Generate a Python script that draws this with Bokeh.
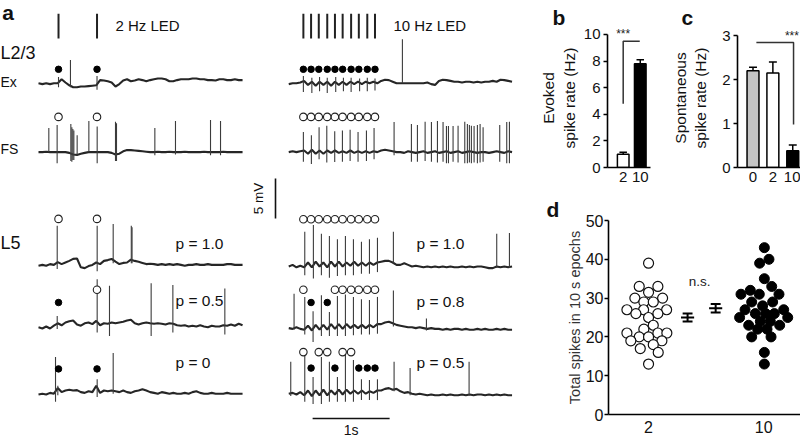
import numpy as np
from bokeh.plotting import figure
from bokeh.models import Range1d, Label, FixedTicker
from bokeh.layouts import row, column
from bokeh.core.properties import value
from bokeh.embed import file_html
from bokeh.resources import INLINE

FONT = "Liberation Sans"
DT = 0.05
RIGHT_T0 = 3.25      # start of the right-hand (10 Hz) column on the shared time axis (s)

# ---------------- panel a : stimulus times (s) ----------------
led_2hz = [0.26, 0.76]
led_10hz = [0.19, 0.29, 0.39, 0.50, 0.60, 0.70, 0.81, 0.91, 1.02, 1.12]

# ---------------- panel a : traces (mV re. rest, one sample every 50 ms) + spikes (t, peak, trough) ----
ex_left = [0, -0.1, 0, -0.1, 0, 0, 0.5, 0.1, -0.25, -0.5,
           -0.5, -0.4, -0.4, -0.35, -0.3, -0.25, 0.4, 0.35, 0.25, 0.1,
           -0.4, -0.1, 0.35, 0.5, 0.25, 0.35, 0.5, 0.4, 0.25, 0.4,
           0.5, 0.6, 0.6, 0.5, 0.25, 0.25, 0.4, 0.5, 0.5, 0.5,
           0.6, 0.6, 0.5, 0.5, 0.4, 0.4, 0.35, 0.5, 0.5, 0.4,
           0.4, 0.5, 0.4, 0.4]
ex_left_spikes = [(0.26, 0.8, -0.5), (0.415, 2.9, -0.5), (0.76, 0.9, -0.8)]

fs_left = [0, 0, 0.05, 0, 0, 0, 0, 0, -0.1, -0.3,
           -0.35, -0.2, -0.1, 0, 0, 0, 0, 0, 0, -0.1,
           -0.3, -0.2, 0.1, 0.25, 0.25, 0.2, 0.15, 0.1, 0.05, 0,
           0, 0.05, 0, 0, 0.05, 0, 0, 0, 0.05, 0,
           0, 0, 0, 0.05, 0, 0, 0, 0, 0.05, 0,
           0, 0, 0, 0]
fs_left_spikes = [(0.134, 3.0, 0.0), (0.242, 3.4, -1.4), (0.42, 3.5, -1.1), (0.433, 3.1, -1.2),
                  (0.446, 2.9, -1.0), (0.459, 2.7, -1.0), (0.502, 2.1, -0.3), (0.654, 3.9, 0.0),
                  (0.762, 3.2, -1.4), (1.0, 3.8, -1.1), (1.013, 3.6, -1.1), (1.511, 3.0, -0.4),
                  (1.779, 3.9, -0.3), (2.234, 4.0, -0.4), (2.364, 3.9, -0.4)]

l5p10_left = [-0.1, 0, -0.1, 0.1, 0, 0.35, 0.1, 0.3, 0.5, 0.75,
              0.8, -0.3, -0.4, -0.15, 0, 0.3, 0.1, 0.5, 0.6, 0.75,
              0.4, 0.1, 0.25, 0.3, 0.65, 0.5, 0.4, 0.25, 0.1, 0.15,
              0.1, 0, 0.1, 0, 0.1, 0, 0.1, 0, -0.1, 0,
              0, 0.1, 0, 0, 0.1, 0, 0, 0, 0, 0.1,
              0.1, 0, 0, 0]
l5p10_left_spikes = [(0.243, 4.9, -0.5), (0.762, 4.9, -0.8), (0.97, 5.1, 0.2),
                     (1.205, 4.9, 0.2), (1.215, 4.7, 0.2)]

l5p05_left = [-0.1, -0.25, 0, -0.25, 0.1, 0.4, 0.15, 0.5, 0.65, 0.75,
              0.25, 0.1, 0.4, 0.5, 0.3, 0.7, 0.15, 0.4, 0.35, 0.5,
              0.4, 0.5, 0.6, 0.75, 0.85, 0.4, 0.25, 0.4, 0.5, 0.4,
              0.35, 0.4, 0.35, 0.25, 0.4, 0.35, 0.15, 0.1, 0.15, 0,
              0.1, 0, 0.15, 0, -0.1, 0.1, 0, 0, 0.15, 0.1,
              0.25, 0.1, 0.35, 0.15]
l5p05_left_spikes = [(0.243, 1.3, -0.3), (0.762, 5.9, -0.75), (0.922, 5.1, -1.2),
                     (1.463, 5.4, -1.2), (1.745, 5.2, -0.75), (2.42, 4.75, -1.0)]

l5p0_left = [-0.1, 0, -0.1, 0.1, 0, 0.7, 0.2, 0.4, 0.5, 0.4,
             0.45, 0.2, 0.1, 0.3, 0.2, 1.0, 0.1, 0.4, 0.3, 0.4,
             0.3, 0.2, 0.4, 0.2, 0.1, 0.3, 0.4, 0.55, 0.4, 0.2,
             0.1, 0, 0.2, 0.1, 0, 0.1, 0, 0, 0.1, 0,
             0.2, 0.3, 0.1, 0, 0, 0.1, 0, 0, 0, 0.1,
             0, 0, 0, 0]
l5p0_left_spikes = [(0.221, 4.6, -1.0), (0.251, 1.0, -0.2), (0.762, 1.8, -0.4), (0.97, 5.1, 0.0)]

ex_right = [-0.1, 0, 0, 0.1, 0.3, -0.2, 0.2, -0.3, 0.2, -0.2,
            0.2, -0.3, 0.2, -0.2, 0.2, -0.2, 0.2, -0.1, 0.2, -0.1,
            0.2, 0, 0.2, 0, 0.3, 0.45, 0.4, 0.2, 0, 0,
            0, 0, 0, 0, 0, 0, 0.1, -0.1, -0.2, 0.3,
            0.45, 0.4, 0.3, 0.2, 0.2, 0.1, 0.2, 0.2, 0.1, 0.2,
            0.1, 0.2, 0.2, 0.3, 0.2, 0.45, 0.4, 0.3, 0.2]
ex_right_spikes = [(0.19, 0.9, -1.1), (0.30, 0.7, -1.2), (0.40, 0.8, -1.0), (0.50, 0.7, -1.2),
                   (0.61, 0.8, -1.1), (0.71, 0.7, -1.0), (0.81, 0.7, -1.1), (0.92, 0.6, -1.0),
                   (1.02, 0.7, -1.0), (1.12, 0.6, -0.9), (1.476, 5.5, 0.0)]

fs_right = [0, 0.1, 0, 0.1, 0.2, -0.2, 0.3, -0.2, 0.2, -0.2,
            0.2, -0.1, 0.2, -0.1, 0.1, -0.1, 0.2, -0.1, 0.1, -0.1,
            0.1, -0.1, 0.1, 0, 0.2, 0.3, 0.2, 0.1, 0, 0,
            -0.1, 0.1, 0, -0.1, 0, 0.1, -0.1, 0, 0.1, -0.1,
            0, 0.1, -0.1, 0, 0.1, -0.1, 0, 0.1, 0, -0.1,
            0, 0, -0.1, 0, 0.1, 0, -0.1, 0.1, 0]
fs_right_spikes = [(0.19, 2.5, -1.2), (0.294, 2.1, -1.5), (0.394, 3.1, -0.9), (0.494, 3.3, -1.3),
                   (0.597, 2.6, -1.25), (0.697, 2.7, -1.2), (0.797, 2.8, -1.1), (0.9, 2.5, -1.2),
                   (1.009, 2.7, -1.1), (1.108, 3.0, -0.9),
                   (1.368, 3.75, -0.4), (1.593, 3.5, -1.2), (1.671, 3.4, -1.2), (1.771, 3.8, -1.1),
                   (1.853, 3.75, -1.2), (1.931, 3.9, -1.3), (2.004, 3.75, -1.2), (2.048, 3.25, -1.4),
                   (2.074, 3.25, -1.4), (2.134, 3.25, -1.2), (2.199, 3.3, -1.3), (2.286, 3.8, -1.4),
                   (2.32, 3.5, -1.4), (2.346, 3.4, -1.3), (2.372, 3.3, -1.4), (2.407, 3.25, -1.3),
                   (2.45, 3.4, -1.4), (2.485, 3.5, -1.3), (2.524, 3.1, -1.2), (2.74, 3.4, -1.2),
                   (2.831, 3.75, -1.4), (2.866, 3.8, -1.4)]

l5p10_right = [-0.1, 0.1, -0.2, 0,
               -0.2, 0.4, -0.2, 0.5, -0.1, 0.4, -0.2, 0.5, -0.1, 0.5,
               -0.1, 0.4, 0, 0.5, 0, 0.4, 0, 0.4, 0.1, 0.4,
               0.5, 0.6, 0.6, 0.4, 0.1, 0.1,
               0.3, 0.1, -0.1, 0, -0.1, -0.2, -0.1, -0.2, -0.1, -0.2,
               -0.1, -0.2, -0.1, -0.2, -0.2, -0.1, -0.2, -0.1, -0.2, -0.1,
               -0.1, -0.2, -0.3, -0.3, -0.1, -0.2, -0.1, -0.2, -0.1]
l5p10_right_spikes = [(0.208, 4.25, -1.2), (0.32, 5.1, -1.6), (0.424, 4.0, -1.2), (0.528, 3.7, -1.5),
                      (0.632, 3.3, -1.3), (0.736, 3.7, -1.2), (0.84, 3.3, -1.2), (0.944, 3.0, -1.0),
                      (1.048, 3.3, -1.0), (1.152, 3.5, -0.8), (1.359, 4.25, 0.3),
                      (2.701, 4.0, -0.3), (2.866, 4.1, -0.3)]

l5p08_right = [0, -0.1, 0.1, -0.1,
               -0.2, 0.3, -0.3, 0.4, -0.2, 0.4, -0.2, 0.5, -0.1, 0.5,
               -0.1, 0.5, 0, 0.4, 0, 0.4, 0, 0.4, 0.1, 0.5,
               0.5, 0.7, 0.8, 0.6, 0.4, 0.3,
               0.2, 0.1, 0.1, 0, 0.1, 0, -0.1, 0, -0.1, -0.1,
               -0.2, -0.1, -0.2, -0.1, -0.1, -0.2, -0.1, -0.2, -0.2, -0.1,
               -0.2, -0.1, -0.2, -0.2, -0.1, -0.2, -0.1, -0.2, -0.2]
l5p08_right_spikes = [(0.069, 4.3, -0.2), (0.208, 3.9, -0.8), (0.316, 2.1, -1.75), (0.424, 4.1, -1.0),
                      (0.528, 2.0, -1.0), (0.632, 4.0, -1.0), (0.736, 4.2, -1.0), (0.84, 3.9, -0.9),
                      (0.944, 3.6, -0.8), (1.048, 3.5, -0.8), (1.152, 3.9, -0.7), (1.359, 4.7, 0.2),
                      (1.788, 1.2, -0.3)]

l5p05_right = [0, 0.1, -0.1, 0.2,
               -0.2, 0.4, -0.3, 0.4, -0.2, 0.5, -0.2, 0.4, -0.1, 0.5,
               -0.1, 0.5, 0, 0.4, 0, 0.4, 0, 0.3, 0.1, 0.4,
               0.4, 0.6, 0.7, 0.5, 0.6, 0.3,
               0.1, 0.2, 0, -0.1, 0, -0.1, -0.2, -0.1, -0.2, -0.2,
               -0.1, -0.2, -0.1, -0.2, -0.2, -0.1, -0.2, -0.1, -0.2, -0.1,
               -0.1, -0.2, -0.1, -0.2, -0.1, -0.2, -0.1, -0.2, -0.2]
l5p05_right_spikes = [(0.026, 4.0, -0.3), (0.208, 4.8, -1.0), (0.316, 2.1, -1.3), (0.424, 4.6, -1.3),
                      (0.528, 4.0, -1.0), (0.632, 2.1, -1.0), (0.736, 5.2, -1.0), (0.84, 4.2, -1.0),
                      (0.944, 1.8, -0.8), (1.048, 1.7, -0.8), (1.152, 1.8, -0.8), (1.368, 4.0, 0.3),
                      (1.576, 3.2, -0.2), (2.342, 4.0, -0.2)]

# outcome of each LED pulse: 1 = spike (open circle), 0 = no spike (filled dot), None = unmarked
ex_left_hits = [0, 0]
fs_left_hits = [1, 1]
l5p10_left_hits = [1, 1]
l5p05_left_hits = [0, 1]
l5p0_left_hits = [0, 0]
ex_right_hits = [0] * 10
fs_right_hits = [1] * 10
l5p10_right_hits = [1] * 10
l5p08_right_hits = [1, 0, None, 0, 1, 1, 1, 1, 1, 1]
l5p05_right_hits = [1, 0, 1, 1, 0, 1, 1, 0, 0, 0]

# ---------------- panel b ----------------
freq_b = ["2", "10"]
evoked_rate = [1.0, 7.8]
evoked_sem = [0.15, 0.3]

# ---------------- panel c ----------------
freq_c = ["0", "2", "10"]
spont_rate = [2.2, 2.15, 0.38]
spont_sem = [0.08, 0.25, 0.13]

# ---------------- panel d ----------------
group_d = ["2", "10"]
spikes_2hz = [39, 33, 33, 31.5, 30, 30, 29, 29, 27, 27, 27, 26, 26, 25, 23, 22, 21, 21, 21,
              20, 20, 19, 19, 18, 17, 16, 13]
jitter_2hz = [0, -0.081, 0.081, 0, -0.119, 0.122, -0.041, 0.041, -0.188, -0.043, 0.157,
              -0.110, 0.081, 0, 0.041, -0.041, -0.188, 0.081, 0.159, -0.081, 0, -0.154,
              0.116, 0.041, -0.072, 0.084, 0]
spikes_10hz = [43, 39, 40, 35, 33, 32, 31, 31, 31, 29, 29, 28, 27, 27, 26, 26, 26, 25, 25,
               24, 24, 23, 23, 22, 22, 20, 20, 16, 13]
jitter_10hz = [0.006, -0.035, 0.046, 0.006, 0.07, -0.116, -0.197, -0.038, 0.133, -0.104,
               0.078, -0.009, -0.162, 0.174, -0.072, 0.017, 0.093, -0.209, 0.209, -0.029,
               0.058, -0.13, 0.139, -0.052, 0.029, -0.104, 0.064, 0.006, 0.006]
mean_d = [25.0, 27.4]
sem_d = [1.0, 1.1]

TRACE = "#262626"
SPIKE = "#3c3c3c"

# =============== panel a ===============
pa = figure(width=537, height=438, x_range=Range1d(-0.4935, 6.4805), y_range=Range1d(0, 54.75),
            x_axis_type=None, y_axis_type=None, output_backend="svg", toolbar_location=None,
            min_border=0)
pa.outline_line_color = None
pa.background_fill_color = "white"


def draw_trace(t0, base, samples, spikes):
    t = t0 + DT * np.arange(len(samples))
    pa.line(t, base + np.asarray(samples, dtype=float), line_color=TRACE, line_width=2.1)
    st = [t0 + s[0] for s in spikes]
    pa.segment(x0=st, y0=[base + s[2] for s in spikes], x1=st, y1=[base + s[1] for s in spikes],
               line_color=SPIKE, line_width=1.1)


def draw_marks(t0, base, leds, hits, h_open, h_fill):
    xo = [t0 + t for t, h in zip(leds, hits) if h == 1]
    xf = [t0 + t for t, h in zip(leds, hits) if h == 0]
    if xo:
        pa.scatter(xo, [base + h_open] * len(xo), marker="circle", size=7.5,
                   fill_color="white", line_color="#222", line_width=1.1)
    if xf:
        pa.scatter(xf, [base + h_fill] * len(xf), marker="circle", size=6.5,
                   fill_color="black", line_color="black")


def txt(x, y, s, size, angle=0.0, align="left", style="normal"):
    pa.text(x=[x], y=[y], text=[s], text_font=value(FONT), text_font_size=value(size),
            text_align=align, text_baseline="middle", angle=angle, text_font_style=style,
            text_color="#111111")


# LED bars
for t0, leds in ((0.0, led_2hz), (RIGHT_T0, led_10hz)):
    xs = [t0 + t for t in leds]
    pa.segment(x0=xs, y0=[50.0] * len(xs), x1=xs, y1=[53.1] * len(xs),
               line_color="#222", line_width=2)

rows = [
    (0.0, 44.4, ex_left, ex_left_spikes, led_2hz, ex_left_hits, 4.4, 1.75),
    (0.0, 35.8, fs_left, fs_left_spikes, led_2hz, fs_left_hits, 4.4, 1.75),
    (0.0, 21.7, l5p10_left, l5p10_left_spikes, led_2hz, l5p10_left_hits, 5.75, 3.0),
    (0.0, 14.0, l5p05_left, l5p05_left_spikes, led_2hz, l5p05_left_hits, 4.6, 3.0),
    (0.0, 5.6, l5p0_left, l5p0_left_spikes, led_2hz, l5p0_left_hits, 4.6, 3.1),
    (RIGHT_T0, 44.4, ex_right, ex_right_spikes, led_10hz, ex_right_hits, 4.4, 1.75),
    (RIGHT_T0, 35.8, fs_right, fs_right_spikes, led_10hz, fs_right_hits, 4.4, 1.75),
    (RIGHT_T0, 21.6, l5p10_right, l5p10_right_spikes, led_10hz, l5p10_right_hits, 5.8, 3.2),
    (RIGHT_T0, 13.8, l5p08_right, l5p08_right_spikes, led_10hz, l5p08_right_hits, 4.8, 3.2),
    (RIGHT_T0, 5.6, l5p05_right, l5p05_right_spikes, led_10hz, l5p05_right_hits, 5.2, 3.2),
]
for t0, base, samples, spikes, leds, hits, ho, hf in rows:
    draw_trace(t0, base, samples, spikes)
    draw_marks(t0, base, leds, hits, ho, hf)

# scale bars: 5 mV and 1 s
pa.segment(x0=[3.078], y0=[27.5], x1=[3.078], y1=[27.5 + 5.0], line_color="#111", line_width=1.6)
pa.segment(x0=[RIGHT_T0 + 0.31], y0=[2.5], x1=[RIGHT_T0 + 0.31 + 1.0], y1=[2.5],
           line_color="#111", line_width=1.6)

txt(-0.47, 53.2, "a", "21px", style="bold")
txt(1.0, 51.6, "2 Hz LED", "15px")
txt(4.61, 51.6, "10 Hz LED", "15px")
txt(-0.4935, 48.25, "L2/3", "18px")
txt(-0.4935, 44.6, "Ex", "14px")
txt(-0.4935, 36.25, "FS", "14px")
txt(-0.4935, 24.5, "L5", "18px")
txt(1.78, 24.4, "p = 1.0", "15.5px")
txt(1.78, 17.25, "p = 0.5", "15.5px")
txt(1.78, 9.5, "p = 0", "15.5px")
txt(RIGHT_T0 + 1.66, 24.4, "p = 1.0", "15.5px")
txt(RIGHT_T0 + 1.66, 17.1, "p = 0.8", "15.5px")
txt(RIGHT_T0 + 1.66, 9.5, "p = 0.5", "15.5px")
txt(2.86, 30.0, "5 mV", "13.5px", angle=np.pi / 2, align="center")
txt(RIGHT_T0 + 0.81, 1.05, "1s", "14px", align="center")


# =============== helpers for b, c, d ===============
def style_axes(p, yticks, labels, ylabel, ylabel_size, ylabel_standoff, ylabel_color="#111"):
    p.xgrid.visible = False
    p.ygrid.visible = False
    p.outline_line_color = None
    for ax in (p.xaxis, p.yaxis):
        ax.axis_line_width = 1.6
        ax.axis_line_color = "black"
        ax.major_label_text_font = FONT
        ax.major_label_text_font_size = "15px"
        ax.major_label_text_color = "#111"
        ax.minor_tick_line_color = None
    p.yaxis.ticker = FixedTicker(ticks=yticks)
    p.yaxis.major_tick_out = 4
    p.yaxis.major_tick_in = 0
    p.yaxis.major_tick_line_width = 1.5
    p.yaxis.major_label_standoff = 3
    p.yaxis.bounds = (yticks[0], yticks[-1])
    p.xaxis.ticker = FixedTicker(ticks=list(range(len(labels))))
    p.xaxis.major_label_overrides = {i: lab for i, lab in enumerate(labels)}
    p.xaxis.major_tick_line_color = None
    p.xaxis.major_tick_out = 0
    p.xaxis.major_tick_in = 0
    p.xaxis.major_label_standoff = 4
    p.xaxis.axis_label = None
    p.xaxis.axis_label_standoff = 0
    p.yaxis.axis_label = ylabel
    p.yaxis.axis_label_text_font = FONT
    p.yaxis.axis_label_text_font_size = ylabel_size
    p.yaxis.axis_label_text_font_style = "normal"
    p.yaxis.axis_label_text_color = ylabel_color
    p.yaxis.axis_label_standoff = ylabel_standoff


def letter(p, s, offset):
    t = p.title
    t.text = s
    t.align = "left"
    t.offset = offset
    t.text_font = FONT
    t.text_font_size = "21px"
    t.text_font_style = "bold"
    t.text_color = "#111"
    if "standoff" in t.properties():
        t.standoff = 0


def small_text(p, x, y, s, size):
    p.add_layout(Label(x=x, y=y, text=s, text_font=FONT, text_font_size=size,
                       text_align="center", text_baseline="middle", text_color="#222"))


def bars_with_err(p, vals, errs, colors, width, cap):
    xs = list(range(len(vals)))
    p.vbar(x=xs, top=vals, width=width, fill_color=colors, line_color="black", line_width=1.5)
    tops = [v + e for v, e in zip(vals, errs)]
    p.segment(x0=xs, y0=vals, x1=xs, y1=tops, line_color="black", line_width=1.5)
    p.segment(x0=[x - cap for x in xs], y0=tops, x1=[x + cap for x in xs], y1=tops,
              line_color="black", line_width=1.5)


# =============== panel b ===============
pb = figure(width=131, height=195, x_range=Range1d(-0.92, 1.6), y_range=Range1d(0, 10.45),
            output_backend="svg", toolbar_location=None,
            min_border_left=65, min_border_right=18, min_border_top=28, min_border_bottom=28)
style_axes(pb, [0, 2, 4, 6, 8, 10], freq_b, "Evoked\nspike rate (Hz)", "15.5px", 3)
bars_with_err(pb, evoked_rate, evoked_sem, ["white", "black"], 0.68, 0.22)
pb.line([0, 0, 0.97], [4.8, 9.5, 9.5], line_color="#333", line_width=1.5)
small_text(pb, 0.0, 10.0, "***", "12px")
letter(pb, "b", -55)

# =============== panel c ===============
pc = figure(width=132, height=195, x_range=Range1d(-0.78, 2.39), y_range=Range1d(0, 3.16),
            output_backend="svg", toolbar_location=None,
            min_border_left=59, min_border_right=0, min_border_top=28, min_border_bottom=28)
style_axes(pc, [0, 1, 2, 3], freq_c, "Spontaneous\nspike rate (Hz)", "15.5px", 10)
bars_with_err(pc, spont_rate, spont_sem, ["#c4c4c4", "white", "black"], 0.6, 0.2)
pc.line([0.17, 2.04, 2.04], [2.84, 2.84, 0.98], line_color="#333", line_width=1.5)
small_text(pc, 1.96, 3.0, "***", "12px")
letter(pc, "c", -56)

# =============== panel d ===============
pd_ = figure(width=263, height=243, x_range=Range1d(-0.348, 1.32), y_range=Range1d(0, 50),
             output_backend="svg", toolbar_location=None,
             min_border_left=71, min_border_right=0, min_border_top=24, min_border_bottom=24)
style_axes(pd_, [0, 10, 20, 30, 40, 50], group_d, "Total spikes in 10 s epochs", "14.5px", 0,
           ylabel_color="#333")
pd_.xaxis.major_label_standoff = 6
pd_.xaxis.major_label_text_font_size = "16px"
pd_.yaxis.major_label_text_font_size = "16px"
pd_.yaxis.major_tick_out = 4
pd_.yaxis.major_label_standoff = 1

pd_.scatter([0 + j for j in jitter_2hz], spikes_2hz, marker="circle", size=10,
            fill_color="white", line_color="#111", line_width=1.2)
pd_.scatter([1 + j for j in jitter_10hz], spikes_10hz, marker="circle", size=10,
            fill_color="black", line_color="black")

sem_x = [0.339, 0.583]   # mean +/- SEM markers sit between the two groups
for xm, m, s in zip(sem_x, mean_d, sem_d):
    pd_.segment(x0=[xm, xm - 0.057, xm - 0.043, xm - 0.043], y0=[m - s, m, m + s, m - s],
                x1=[xm, xm + 0.057, xm + 0.043, xm + 0.043], y1=[m + s, m, m + s, m - s],
                line_color="black", line_width=2)
small_text(pd_, 0.443, 34.4, "n.s.", "13.5px")
letter(pd_, "d", -62)

layout = row(pa, column(row(pb, pc), pd_))
open("out.html", "w").write(file_html(layout, INLINE))
